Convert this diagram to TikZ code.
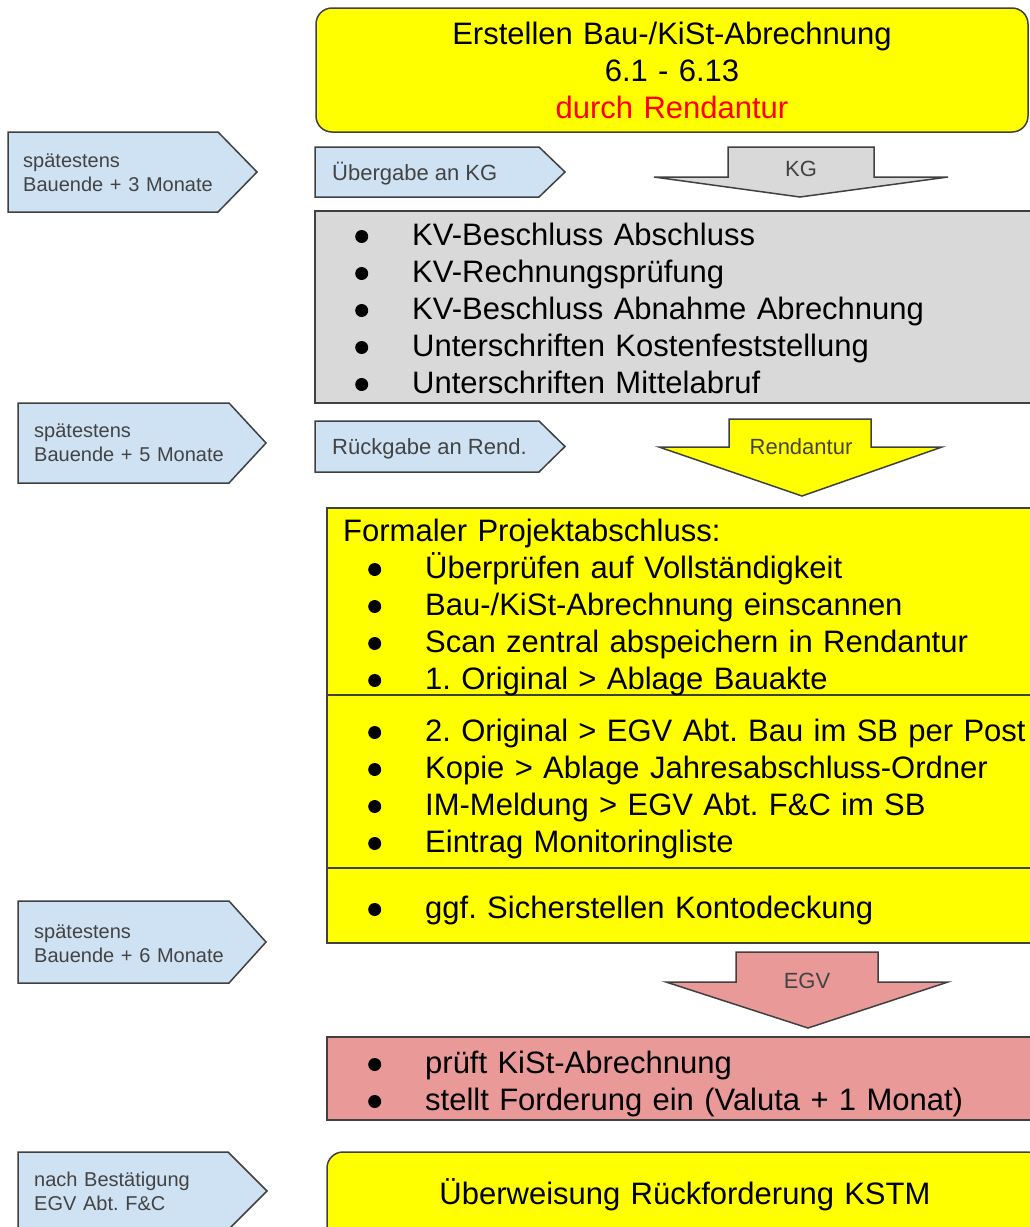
\documentclass[tikz,border=0pt]{standalone}
\usepackage{fontspec}
\setmainfont{Liberation Sans}
\usetikzlibrary{calc}
\frenchspacing

\definecolor{boxyellow}{HTML}{FFFF00}
\definecolor{boxgray}{HTML}{D9D9D9}
\definecolor{boxpink}{HTML}{EA9999}
\definecolor{tagblue}{HTML}{CFE2F3}
\definecolor{framegray}{HTML}{404040}
\definecolor{tagtext}{HTML}{434343}

\tikzset{
  frame/.style={draw=framegray, line width=1.5pt},
  tagbox/.style={frame, fill=tagblue},
  tagtxt/.style={anchor=base west, inner sep=0pt, text=tagtext,
    font=\fontsize{20}{24.5}\selectfont, align=left, text width=240pt},
  handtxt/.style={anchor=base west, inner sep=0pt, text=tagtext,
    font=\fontsize{22}{26}\selectfont},
  arrowtxt/.style={anchor=base, inner sep=0pt, text=tagtext,
    font=\fontsize{22}{26}\selectfont},
  listtxt/.style={anchor=base west, inner sep=0pt,
    font=\fontsize{31}{37}\selectfont, align=left, text width=680pt}
}

% bullet for the lists
\newcommand{\itm}{\makebox[57pt][l]{\raisebox{2pt}{\tikz\fill[black] (0,0) circle (6.5pt);}}}

\begin{document}
\begin{tikzpicture}[x=1pt,y=-1pt]
  \useasboundingbox[fill=white] (0,0) rectangle (1030,1227);

  % top box
  \draw[frame, fill=boxyellow, rounded corners=16pt] (316,8) rectangle (1028,132);
  \node[listtxt, anchor=base, align=center, text width=700pt] (start) at (672,44)
    {Erstellen Bau-/KiSt-Abrechnung\\6.1 - 6.13\\\textcolor{red}{durch Rendantur}};

  % time marks left
  \draw[tagbox] (8,132) -- (218,132) -- (257,172) -- (218,212) -- (8,212) -- cycle;
  \node[tagtxt] (tag3m) at (23,167) {spätestens\\Bauende + 3 Monate};
  \draw[tagbox] (18,403) -- (229,403) -- (266,443) -- (229,483) -- (18,483) -- cycle;
  \node[tagtxt] (tag5m) at (34,437) {spätestens\\Bauende + 5 Monate};
  \draw[tagbox] (18,901) -- (229,901) -- (266,942) -- (229,983) -- (18,983) -- cycle;
  \node[tagtxt] (tag6m) at (34,938) {spätestens\\Bauende + 6 Monate};
  \draw[tagbox] (18,1152) -- (228,1152) -- (267,1191) -- (228,1230) -- (18,1230) -- cycle;
  \node[tagtxt] (tagok) at (34,1186) {nach Bestätigung\\EGV Abt. F\&C};

  % handover marks
  \draw[tagbox] (315,147) -- (539,147) -- (565,172) -- (539,197) -- (315,197) -- cycle;
  \node[handtxt] (toKG) at (332,180) {Übergabe an KG};
  \draw[tagbox] (315,421) -- (539,421) -- (565,446.5) -- (539,472) -- (315,472) -- cycle;
  \node[handtxt] (toRend) at (332,454.5) {Rückgabe an Rend.};

  % block arrows
  \draw[frame, fill=boxgray] (728,147) -- (874,147) -- (874,177) -- (948,177)
    -- (800,197) -- (654,177) -- (728,177) -- cycle;
  \node[arrowtxt] (arrKG) at (801,176) {KG};
  \draw[frame, fill=boxyellow] (729,419) -- (871,419) -- (871,447) -- (942,447)
    -- (802,496) -- (659,447) -- (729,447) -- cycle;
  \node[arrowtxt] (arrRend) at (801,454) {Rendantur};
  \draw[frame, fill=boxpink] (736,952) -- (878,952) -- (878,982) -- (948,982)
    -- (808,1028) -- (666,982) -- (736,982) -- cycle;
  \node[arrowtxt] (arrEGV) at (807,988) {EGV};

  % KG tasks
  \draw[frame, fill=boxgray] (315,211) rectangle (1040,403);
  \node[listtxt] (kgtasks) at (355,245)
    {\itm KV-Beschluss Abschluss\\
     \itm KV-Rechnungsprüfung\\
     \itm KV-Beschluss Abnahme Abrechnung\\
     \itm Unterschriften Kostenfeststellung\\
     \itm Unterschriften Mittelabruf};

  % Rendantur tasks
  \draw[frame, fill=boxyellow] (327,508) rectangle (1040,943);
  \draw[frame] (327,695) -- (1040,695);
  \draw[frame] (327,868) -- (1040,868);
  \node[listtxt] (closehead) at (343,541) {Formaler Projektabschluss:};
  \node[listtxt] (close1) at (368,578)
    {\itm Überprüfen auf Vollständigkeit\\
     \itm Bau-/KiSt-Abrechnung einscannen\\
     \itm Scan zentral abspeichern in Rendantur\\
     \itm 1. Original > Ablage Bauakte};
  \node[listtxt] (close2) at (368,741)
    {\itm 2. Original > EGV Abt. Bau im SB per Post\\
     \itm Kopie > Ablage Jahresabschluss-Ordner\\
     \itm IM-Meldung > EGV Abt. F\&C im SB\\
     \itm Eintrag Monitoringliste};
  \node[listtxt] (close3) at (368,918) {\itm ggf. Sicherstellen Kontodeckung};

  % EGV tasks
  \draw[frame, fill=boxpink] (327,1037) rectangle (1040,1120);
  \node[listtxt] (egvtasks) at (368,1073)
    {\itm prüft KiSt-Abrechnung\\
     \itm stellt Forderung ein (Valuta + 1 Monat)};

  % final box
  \draw[frame, fill=boxyellow, rounded corners=16pt] (327,1152) rectangle (1043,1250);
  \node[listtxt, anchor=base, align=center, text width=700pt] (transfer) at (685,1204)
    {Überweisung Rückforderung KSTM};
\end{tikzpicture}
\end{document}
